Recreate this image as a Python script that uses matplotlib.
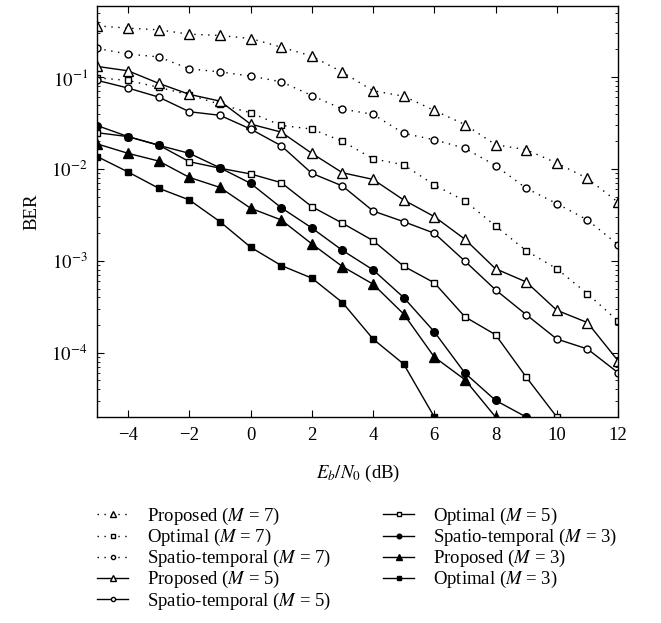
import numpy as np
import matplotlib.pyplot as plt

plt.rcParams['font.family'] = 'Liberation Serif'
plt.rcParams['mathtext.fontset'] = 'stix'

snr = np.arange(-5, 13)

proposed_7 = [0.361, 0.341, 0.327, 0.293, 0.284, 0.263, 0.212, 0.169, 0.113, 0.071,
              0.062, 0.0434, 0.0304, 0.0184, 0.0162, 0.0116, 0.0079, 0.00435]
optimal_7 = [0.098, 0.092, 0.0773, 0.0642, 0.0505, 0.0409, 0.0298, 0.0272, 0.020, 0.0129,
             0.0111, 0.0067, 0.00449, 0.0024, 0.00129, 0.00082, 0.00044, 0.000221]
spatio_7 = [0.205, 0.178, 0.166, 0.123, 0.114, 0.1026, 0.089, 0.063, 0.0449, 0.0393,
            0.0244, 0.0208, 0.0168, 0.0109, 0.00617, 0.0042, 0.00279, 0.0015]
proposed_5 = [0.1306, 0.117, 0.0855, 0.0649, 0.0548, 0.0308, 0.0252, 0.0148, 0.0091, 0.0077,
              0.0046, 0.00303, 0.00172, 0.00082, 0.00059, 0.00029, 0.000213, 0.0000818]
spatio_5 = [0.092, 0.076, 0.0606, 0.042, 0.0384, 0.0272, 0.0179, 0.00897, 0.00653, 0.00349,
            0.00267, 0.002, 0.000993, 0.000484, 0.00026, 0.000141, 0.00011, 0.0000607]
optimal_5 = [0.0248, 0.0225, 0.0182, 0.012, 0.0102, 0.00883, 0.0071, 0.00389, 0.00257, 0.00166,
             0.000875, 0.000577, 0.000246, 0.000157, 0.0000544, 0.00002]
spatio_3 = [0.0296, 0.0225, 0.0181, 0.0148, 0.0103, 0.00698, 0.00379, 0.00228, 0.0013, 0.000798,
            0.000399, 0.000169, 0.0000601, 0.0000303, 0.00002]
proposed_3 = [0.0187, 0.0148, 0.0122, 0.0081, 0.0063, 0.00374, 0.00279, 0.00153, 0.000867, 0.000558,
              0.000264, 0.0000898, 0.0000509, 0.00002]
optimal_3 = [0.0136, 0.00927, 0.00617, 0.0046, 0.00267, 0.00141, 0.00089, 0.000649, 0.000352, 0.000141,
             0.0000753, 0.00002]

dots = (0, (1, 4))
series = [
    (proposed_7, dots, '^', 'white', 7, 'Proposed ($M$ = 7)'),
    (optimal_7, dots, 's', 'white', 4, 'Optimal ($M$ = 7)'),
    (spatio_7, dots, 'o', 'white', 5, 'Spatio-temporal ($M$ = 7)'),
    (proposed_5, '-', '^', 'white', 7, 'Proposed ($M$ = 5)'),
    (spatio_5, '-', 'o', 'white', 5, 'Spatio-temporal ($M$ = 5)'),
    (optimal_5, '-', 's', 'white', 4, 'Optimal ($M$ = 5)'),
    (spatio_3, '-', 'o', 'black', 5.5, 'Spatio-temporal ($M$ = 3)'),
    (proposed_3, '-', '^', 'black', 6.5, 'Proposed ($M$ = 3)'),
    (optimal_3, '-', 's', 'black', 4, 'Optimal ($M$ = 3)'),
]

fig = plt.figure(figsize=(6.61, 6.23), dpi=100)
ax = fig.add_axes([0.1475, 0.3307, 0.7875, 0.6603])

for vals, ls, mk, fc, ms, lab in series:
    ax.semilogy(snr[:len(vals)], vals, color='black', linestyle=ls, linewidth=1,
                marker=mk, markerfacecolor=fc, markeredgecolor='black',
                markeredgewidth=1, markersize=ms, label=lab)

ax.set_xlim(-5, 12)
ax.set_ylim(2e-5, 0.6)
ax.set_xticks([-4, -2, 0, 2, 4, 6, 8, 10, 12])
ax.set_xticklabels(['\u22124', '\u22122', '0', '2', '4', '6', '8', '10', '12'])
ax.set_yticks([1e-4, 1e-3, 1e-2, 1e-1])
ax.set_yticklabels(['$10^{-4}$', '$10^{-3}$', '$10^{-2}$', '$10^{-1}$'])
ax.tick_params(which='both', direction='in', top=True, right=True, labelsize=13.5, pad=7)
ax.tick_params(which='major', length=5)
ax.tick_params(which='minor', length=2.5)
for s in ax.spines.values():
    s.set_linewidth(1)

ax.set_xlabel('$E_b/N_0$ (dB)', fontsize=13.5, labelpad=14)
ax.set_ylabel('BER', fontsize=13.5, labelpad=8)

fig.legend(ncol=2, loc='upper left', bbox_to_anchor=(0.147, 0.188), frameon=False,
           fontsize=13.5, handlelength=1.65, handletextpad=1.0, columnspacing=2.8,
           labelspacing=0.0, markerscale=0.6, borderpad=0, borderaxespad=0)

fig.savefig('out.png', dpi=100)
